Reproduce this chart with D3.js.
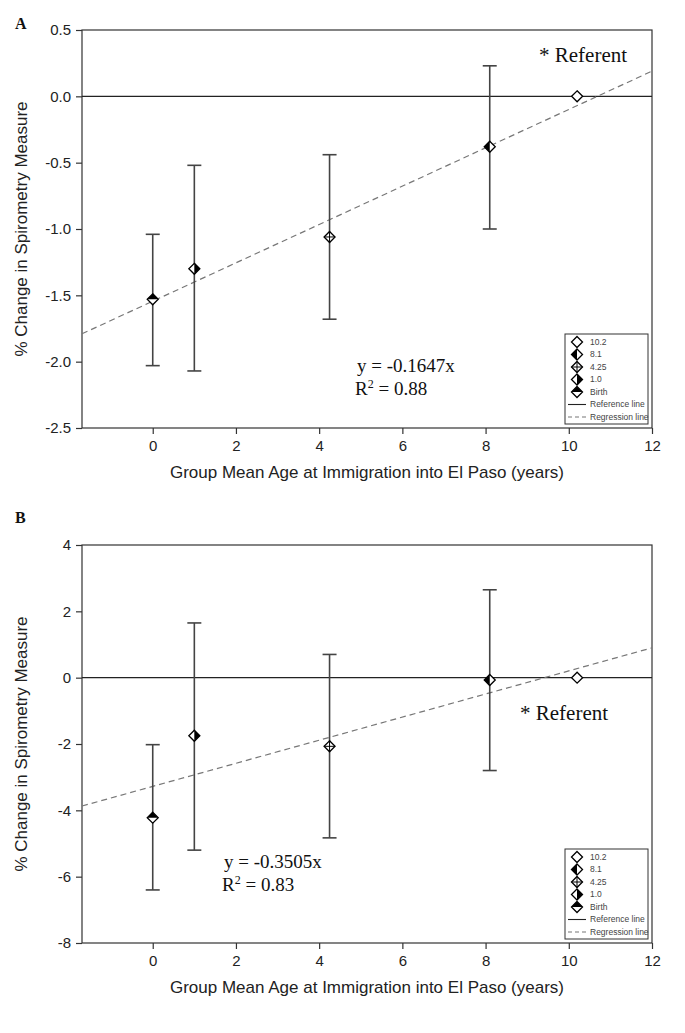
<!DOCTYPE html>
<html>
<head>
<meta charset="utf-8">
<script src="https://cdn.jsdelivr.net/npm/d3@7"></script>
<style>
  body { margin: 0; background: #fff; }
  svg { display: block; }
  .tick text { font-family: "Liberation Sans", Arial, sans-serif; font-size: 15px; fill: #222; }
  .serif { font-family: "Liberation Serif", "Times New Roman", serif; fill: #111; }
</style>
</head>
<body>
<svg id="chart" width="685" height="1033"></svg>
<script>
// group mean age at immigration (x) and legend labels
let groupAges = [10.2, 8.1, 4.25, 1.0, 0];
let groupLabels = ["10.2", "8.1", "4.25", "1.0", "Birth"];
let markerStyles = ["open", "left", "cross", "right", "top"];

// panel A values (% change)
let meansA = [0, -0.38, -1.06, -1.30, -1.53];
let lowerA = [null, -1.00, -1.68, -2.07, -2.03];
let upperA = [null, 0.23, -0.44, -0.52, -1.04];
let regA = [-1.79, 0.19]; // regression line at x = -1.7 and x = 12

// panel B values (% change)
let meansB = [0, -0.07, -2.07, -1.75, -4.22];
let lowerB = [null, -2.80, -4.83, -5.20, -6.40];
let upperB = [null, 2.65, 0.70, 1.65, -2.02];
let regB = [-3.87, 0.90];

let xDomain = [-1.7, 12];
let xTicks = [0, 2, 4, 6, 8, 10, 12];
let yTicksA = [-2.5, -2.0, -1.5, -1.0, -0.5, 0.0, 0.5];
let yTicksB = [-8, -6, -4, -2, 0, 2, 4];

let svg = d3.select("#chart");

function diamondPath(r) {
	return `M0,${-r}L${r},0L0,${r}L${-r},0Z`;
}

function drawMarker(g, style, r) {
	g.append("path").attr("d", diamondPath(r)).attr("fill", "#fff");
	if (style === "top") g.append("path").attr("d", `M${-r},0L0,${-r}L${r},0Z`).attr("fill", "#000");
	if (style === "left") g.append("path").attr("d", `M0,${-r}L${-r},0L0,${r}Z`).attr("fill", "#000");
	if (style === "right") g.append("path").attr("d", `M0,${-r}L${r},0L0,${r}Z`).attr("fill", "#000");
	g.append("path").attr("d", diamondPath(r)).attr("fill", "none").attr("stroke", "#000").attr("stroke-width", 1.3);
	if (style === "cross") {
		g.append("path").attr("d", `M${-r},0H${r}M0,${-r}V${r}`).attr("stroke", "#000").attr("stroke-width", 1);
	}
}

function drawPanel(cfg) {
	let left = 82, right = 652;
	let top = cfg.top, bottom = cfg.top + 398;

	let x = d3.scaleLinear().domain(xDomain).range([left, right]);
	let y = d3.scaleLinear().domain(cfg.yDomain).range([bottom, top]);

	let g = svg.append("g");

	// panel letter
	g.append("text").attr("class", "serif")
		.attr("x", 15).attr("y", cfg.letterY)
		.style("font-size", "16px").style("font-weight", "bold")
		.text(cfg.letter);

	// frame
	g.append("rect")
		.attr("x", left).attr("y", top)
		.attr("width", right - left).attr("height", bottom - top)
		.attr("fill", "none").attr("stroke", "#333").attr("stroke-width", 1.2);

	// axes
	let yAxis = d3.axisLeft(y).tickValues(cfg.yTicks).tickSize(6).tickPadding(5)
		.tickFormat(cfg.yFormat);
	g.append("g").attr("transform", `translate(${left},0)`).call(yAxis)
		.call(a => a.select(".domain").remove())
		.call(a => a.selectAll("line").attr("stroke", "#333").attr("stroke-width", 1.2));

	let xAxis = d3.axisBottom(x).tickValues(xTicks).tickSize(6).tickPadding(6)
		.tickFormat(d => String(d));
	g.append("g").attr("transform", `translate(0,${bottom})`).call(xAxis)
		.call(a => a.select(".domain").remove())
		.call(a => a.selectAll("line").attr("stroke", "#333").attr("stroke-width", 1.2));

	// axis titles
	g.append("text")
		.attr("x", (left + right) / 2).attr("y", bottom + 50)
		.attr("text-anchor", "middle")
		.style("font-family", "Liberation Sans, Arial, sans-serif").style("font-size", "17px").style("fill", "#222")
		.text("Group Mean Age at Immigration into El Paso (years)");
	g.append("text")
		.attr("transform", `translate(27,${(top + bottom) / 2}) rotate(-90)`)
		.attr("text-anchor", "middle")
		.style("font-family", "Liberation Sans, Arial, sans-serif").style("font-size", "17px").style("fill", "#222")
		.text("% Change in Spirometry Measure");

	// reference line
	g.append("line")
		.attr("x1", left).attr("x2", right)
		.attr("y1", y(0)).attr("y2", y(0))
		.attr("stroke", "#222").attr("stroke-width", 1.3);

	// regression line
	g.append("line")
		.attr("x1", x(xDomain[0])).attr("y1", y(cfg.reg[0]))
		.attr("x2", x(xDomain[1])).attr("y2", y(cfg.reg[1]))
		.attr("stroke", "#777").attr("stroke-width", 1.2).attr("stroke-dasharray", "6,4");

	// error bars
	let pts = groupAges.map((a, i) => ({ age: a, mean: cfg.means[i], lo: cfg.lower[i], hi: cfg.upper[i], style: markerStyles[i] }));
	pts.filter(d => d.lo !== null).forEach(d => {
		let eb = g.append("g").attr("stroke", "#444").attr("stroke-width", 1.6);
		eb.append("line").attr("x1", x(d.age)).attr("x2", x(d.age)).attr("y1", y(d.lo)).attr("y2", y(d.hi));
		eb.append("line").attr("x1", x(d.age) - 7).attr("x2", x(d.age) + 7).attr("y1", y(d.lo)).attr("y2", y(d.lo));
		eb.append("line").attr("x1", x(d.age) - 7).attr("x2", x(d.age) + 7).attr("y1", y(d.hi)).attr("y2", y(d.hi));
	});

	// markers
	pts.forEach(d => {
		let m = g.append("g").attr("transform", `translate(${x(d.age)},${y(d.mean)})`);
		drawMarker(m, d.style, 5.5);
	});

	// annotations
	g.append("text").attr("class", "serif")
		.attr("x", cfg.refPos[0]).attr("y", cfg.refPos[1])
		.style("font-size", "21px").text("* Referent");
	let eq = g.append("text").attr("class", "serif").style("font-size", "19px");
	eq.append("tspan").attr("x", cfg.eqPos[0]).attr("y", cfg.eqPos[1]).text(cfg.eq);
	eq.append("tspan").attr("x", cfg.eqPos[0] - 2).attr("y", cfg.eqPos[1] + 23).text("R");
	eq.append("tspan").attr("dy", -7).style("font-size", "12px").text("2");
	eq.append("tspan").attr("dy", 7).text(" = " + cfg.r2);

	// legend
	let lgBottom = bottom - 4, lgTop = lgBottom - 90, lgRight = right - 4, lgLeft = lgRight - 83;
	g.append("rect")
		.attr("x", lgLeft).attr("y", lgTop).attr("width", lgRight - lgLeft).attr("height", lgBottom - lgTop)
		.attr("fill", "#fff").attr("stroke", "#333").attr("stroke-width", 1);
	let items = groupLabels.map((l, i) => ({ label: l, style: markerStyles[i], type: "marker" }))
		.concat([{ label: "Reference line", type: "solid" }, { label: "Regression line", type: "dash" }]);
	items.forEach((it, i) => {
		let cy = lgTop + 8 + i * 12.5;
		if (it.type === "marker") {
			let m = g.append("g").attr("transform", `translate(${lgLeft + 12},${cy})`);
			drawMarker(m, it.style, 5.5);
		} else {
			g.append("line").attr("x1", lgLeft + 3).attr("x2", lgLeft + 21).attr("y1", cy).attr("y2", cy)
				.attr("stroke", it.type === "solid" ? "#222" : "#777").attr("stroke-width", 1.1)
				.attr("stroke-dasharray", it.type === "dash" ? "4,3" : null);
		}
		g.append("text")
			.attr("x", lgLeft + 25).attr("y", cy).attr("dy", "0.35em")
			.style("font-family", "Liberation Sans, Arial, sans-serif").style("font-size", "8.5px").style("fill", "#444")
			.text(it.label);
	});
}

drawPanel({
	letter: "A", letterY: 29, top: 30,
	yDomain: [-2.5, 0.5], yTicks: yTicksA, yFormat: d => d.toFixed(1),
	means: meansA, lower: lowerA, upper: upperA, reg: regA,
	refPos: [539, 62], eq: "y = -0.1647x", r2: "0.88", eqPos: [357, 372]
});

drawPanel({
	letter: "B", letterY: 523, top: 545,
	yDomain: [-8, 4], yTicks: yTicksB, yFormat: d => String(d),
	means: meansB, lower: lowerB, upper: upperB, reg: regB,
	refPos: [520, 720], eq: "y = -0.3505x", r2: "0.83", eqPos: [224, 868]
});
</script>
</body>
</html>
